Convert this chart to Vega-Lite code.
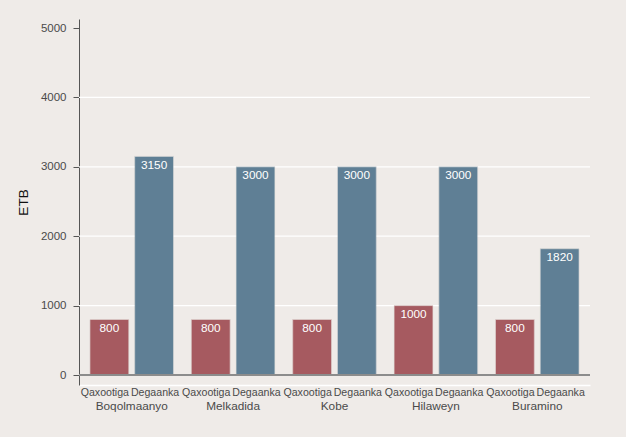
{
  "$schema": "https://vega.github.io/schema/vega-lite/v6.json",
  "width": 511,
  "height": 366,
  "autosize": {"type": "none"},
  "padding": {"left": 79, "top": 19, "right": 36, "bottom": 52},
  "background": "#efebe8",
  "config": {
    "font": "Liberation Sans",
    "view": {"stroke": null, "fill": "#efebe8"}
  },
  "data": {
    "values": [
      {"site": "Boqolmaanyo", "type": "Qaxootiga", "etb": 800},
      {"site": "Boqolmaanyo", "type": "Degaanka", "etb": 3150},
      {"site": "Melkadida", "type": "Qaxootiga", "etb": 800},
      {"site": "Melkadida", "type": "Degaanka", "etb": 3000},
      {"site": "Kobe", "type": "Qaxootiga", "etb": 800},
      {"site": "Kobe", "type": "Degaanka", "etb": 3000},
      {"site": "Hilaweyn", "type": "Qaxootiga", "etb": 1000},
      {"site": "Hilaweyn", "type": "Degaanka", "etb": 3000},
      {"site": "Buramino", "type": "Qaxootiga", "etb": 800},
      {"site": "Buramino", "type": "Degaanka", "etb": 1820}
    ]
  },
  "encoding": {
    "x": {
      "field": "site",
      "type": "nominal",
      "sort": null,
      "scale": {"paddingInner": 0.176, "paddingOuter": 0.108},
      "axis": {
        "title": null,
        "labelAngle": 0,
        "ticks": false,
        "labelPadding": 15,
        "labelFontSize": 11.8,
        "labelColor": "#4a4a4a",
        "domainColor": "#ffffff",
        "domainWidth": 1.5
      }
    },
    "xOffset": {
      "field": "type",
      "type": "nominal",
      "sort": ["Qaxootiga", "Degaanka"],
      "scale": {"paddingInner": 0.133, "paddingOuter": 0}
    }
  },
  "layer": [
    {
      "mark": {"type": "bar", "stroke": "#e8e4e0", "strokeWidth": 0.6},
      "encoding": {
        "y": {
          "field": "etb",
          "type": "quantitative",
          "scale": {"domain": [-144, 5130], "nice": false, "zero": false},
          "axis": {
            "title": "ETB",
            "titleFontSize": 13.5,
            "titleFontWeight": "normal",
            "titleColor": "#111111",
            "titlePadding": 10,
            "values": [0, 1000, 2000, 3000, 4000, 5000],
            "format": "d",
            "labelFontSize": 11.5,
            "labelColor": "#4a4a4a",
            "labelPadding": 7,
            "tickSize": 6,
            "tickColor": "#555555",
            "domainColor": "#555555",
            "grid": false
          }
        },
        "color": {
          "field": "type",
          "type": "nominal",
          "sort": ["Qaxootiga", "Degaanka"],
          "scale": {"range": ["#a65a60", "#5f7f95"]},
          "legend": null
        }
      }
    },
    {
      "mark": {"type": "rule", "color": "#ffffff", "strokeWidth": 1.2},
      "data": {"values": [{"g": 1000}, {"g": 2000}, {"g": 3000}, {"g": 4000}]},
      "encoding": {
        "x": null,
        "xOffset": null,
        "y": {"field": "g", "type": "quantitative"}
      }
    },
    {
      "mark": {"type": "bar", "stroke": "#e8e4e0", "strokeWidth": 0.6},
      "encoding": {
        "y": {"field": "etb", "type": "quantitative"},
        "color": {"field": "type", "type": "nominal", "sort": ["Qaxootiga", "Degaanka"], "legend": null}
      }
    },
    {
      "mark": {"type": "rule", "color": "#8c8c8c", "strokeWidth": 2},
      "data": {"values": [{"z": 0}]},
      "encoding": {
        "x": null,
        "xOffset": null,
        "y": {"field": "z", "type": "quantitative"}
      }
    },
    {
      "mark": {"type": "text", "color": "#ffffff", "fontSize": 11.8, "baseline": "top", "dy": 3.5},
      "encoding": {
        "y": {"field": "etb", "type": "quantitative"},
        "text": {"field": "etb", "type": "quantitative", "format": "d"}
      }
    },
    {
      "transform": [{"filter": "datum.type === 'Qaxootiga'"}],
      "mark": {"type": "text", "color": "#4a4a4a", "fontSize": 10.6, "baseline": "middle", "dy": 17.5, "dx": -4.5},
      "encoding": {
        "y": {"datum": 0, "type": "quantitative"},
        "text": {"field": "type", "type": "nominal"}
      }
    },
    {
      "transform": [{"filter": "datum.type === 'Degaanka'"}],
      "mark": {"type": "text", "color": "#4a4a4a", "fontSize": 10.6, "baseline": "middle", "dy": 17.5, "dx": 1},
      "encoding": {
        "y": {"datum": 0, "type": "quantitative"},
        "text": {"field": "type", "type": "nominal"}
      }
    }
  ]
}
